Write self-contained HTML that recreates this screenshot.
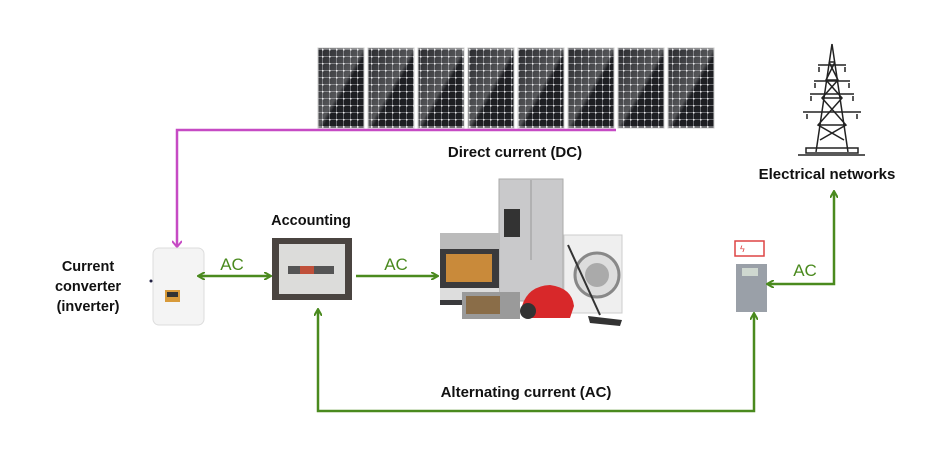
<!DOCTYPE html>
<html><head><meta charset="utf-8"><style>
html,body{margin:0;padding:0;background:#fff;}
svg{display:block;}
text{font-family:"Liberation Sans",sans-serif;}
</style></head><body>
<svg width="940" height="457" viewBox="0 0 940 457" xmlns="http://www.w3.org/2000/svg">
<defs>
<pattern id="cells" width="7" height="7" patternUnits="userSpaceOnUse">
<rect width="7" height="7" fill="#1d1e22"/>
<rect x="0" y="0" width="1" height="7" fill="#6a6b70"/>
<rect x="0" y="0" width="7" height="1" fill="#6a6b70"/>
<rect x="0" y="0" width="1.5" height="1.5" fill="#eee"/>
</pattern>
<linearGradient id="sheen" x1="0" y1="0" x2="1" y2="1">
<stop offset="0" stop-color="#fff" stop-opacity="0.05"/>
<stop offset="0.5" stop-color="#fff" stop-opacity="0.25"/>
<stop offset="0.55" stop-color="#fff" stop-opacity="0"/>
</linearGradient>
<marker id="ga" markerWidth="8" markerHeight="8" refX="6" refY="4" orient="auto-start-reverse" markerUnits="userSpaceOnUse">
<path d="M0,0 L7,4 L0,8" fill="none" stroke="#4a8a1e" stroke-width="2"/>
</marker>
<marker id="ma" markerWidth="10" markerHeight="10" refX="5" refY="9" orient="0" markerUnits="userSpaceOnUse">
<path d="M0,3 L5,9 L10,3" fill="none" stroke="#c64ac4" stroke-width="2"/>
</marker>
</defs>

<g>
<rect x="318" y="48" width="46" height="80" fill="url(#cells)" stroke="#ccc"/><rect x="318" y="48" width="46" height="80" fill="url(#sheen)"/>
<rect x="368" y="48" width="46" height="80" fill="url(#cells)" stroke="#ccc"/><rect x="368" y="48" width="46" height="80" fill="url(#sheen)"/>
<rect x="418" y="48" width="46" height="80" fill="url(#cells)" stroke="#ccc"/><rect x="418" y="48" width="46" height="80" fill="url(#sheen)"/>
<rect x="468" y="48" width="46" height="80" fill="url(#cells)" stroke="#ccc"/><rect x="468" y="48" width="46" height="80" fill="url(#sheen)"/>
<rect x="518" y="48" width="46" height="80" fill="url(#cells)" stroke="#ccc"/><rect x="518" y="48" width="46" height="80" fill="url(#sheen)"/>
<rect x="568" y="48" width="46" height="80" fill="url(#cells)" stroke="#ccc"/><rect x="568" y="48" width="46" height="80" fill="url(#sheen)"/>
<rect x="618" y="48" width="46" height="80" fill="url(#cells)" stroke="#ccc"/><rect x="618" y="48" width="46" height="80" fill="url(#sheen)"/>
<rect x="668" y="48" width="46" height="80" fill="url(#cells)" stroke="#ccc"/><rect x="668" y="48" width="46" height="80" fill="url(#sheen)"/>
</g>

<path d="M616,130 L177,130 L177,247" fill="none" stroke="#c64ac4" stroke-width="2.5" marker-end="url(#ma)"/>
<text x="515" y="157" font-size="15" font-weight="bold" text-anchor="middle" fill="#111">Direct current (DC)</text>

<g fill="none" stroke="#222" stroke-width="1.5">
<path d="M832,44 L816,152 M832,44 L848,152"/>
<path d="M829,62 L835,62 M826,80 L838,80 M822,98 L842,98 M818,125 L846,125"/>
<path d="M829,62 L838,80 L822,98 L846,125 L820,140 M835,62 L826,80 L842,98 L818,125 L844,140"/>
<path d="M818,65 L846,65 M814,81 L850,81 M810,94 L854,94 M803,112 L861,112"/>
<path d="M819,67 v5 M845,67 v5 M815,83 v5 M849,83 v5 M811,96 v5 M853,96 v5 M807,114 v5 M857,114 v5"/>
<rect x="806" y="148" width="52" height="5"/>
<path d="M798,155 L865,155"/>
</g>
<text x="827" y="179" font-size="15" font-weight="bold" text-anchor="middle" fill="#111">Electrical networks</text>

<text x="88" y="271" font-size="14.5" font-weight="bold" text-anchor="middle" fill="#111">Current</text>
<text x="88" y="291" font-size="14.5" font-weight="bold" text-anchor="middle" fill="#111">converter</text>
<text x="88" y="311" font-size="14.5" font-weight="bold" text-anchor="middle" fill="#111">(inverter)</text>
<rect x="153" y="248" width="51" height="77" rx="6" fill="#f4f4f4" stroke="#ddd"/>
<rect x="165" y="290" width="15" height="12" fill="#d89a3a"/>
<rect x="167" y="292" width="11" height="5" fill="#333"/>
<circle cx="151" cy="281" r="1.5" fill="#224"/>

<text x="311" y="225" font-size="14.5" font-weight="bold" text-anchor="middle" fill="#111">Accounting</text>
<rect x="272" y="238" width="80" height="62" fill="#4a4440"/>
<rect x="279" y="244" width="66" height="50" fill="#dcdcda"/>
<rect x="288" y="266" width="46" height="8" fill="#555"/>
<rect x="300" y="266" width="14" height="8" fill="#c0503a"/>

<path d="M199,276 L270,276" stroke="#4a8a1e" stroke-width="2.5" fill="none" marker-start="url(#ga)" marker-end="url(#ga)"/>
<text x="232" y="270" font-size="17" fill="#4a8a1e" text-anchor="middle">AC</text>
<path d="M356,276 L437,276" stroke="#4a8a1e" stroke-width="2.5" fill="none" marker-end="url(#ga)"/>
<text x="396" y="270" font-size="17" fill="#4a8a1e" text-anchor="middle">AC</text>

<rect x="499" y="179" width="64" height="122" fill="#c9c9cb" stroke="#aaa"/>
<line x1="531" y1="180" x2="531" y2="260" stroke="#999"/>
<rect x="504" y="209" width="16" height="28" fill="#333"/>
<rect x="564" y="235" width="58" height="78" fill="#efefef" stroke="#ccc"/>
<circle cx="597" cy="275" r="22" fill="#ddd" stroke="#888" stroke-width="3"/>
<circle cx="597" cy="275" r="12" fill="#aaa"/>
<rect x="440" y="233" width="59" height="72" fill="#3a3a3c"/>
<rect x="440" y="233" width="59" height="16" fill="#bbb"/>
<rect x="446" y="254" width="46" height="28" fill="#c98a3a"/>
<rect x="440" y="288" width="59" height="12" fill="#ddd"/>
<rect x="462" y="292" width="58" height="27" fill="#9a9a9a"/>
<rect x="466" y="296" width="34" height="18" fill="#8a6d48"/>
<path d="M522,306 Q528,286 550,285 Q572,288 574,306 L570,318 L526,318 Z" fill="#d8282a"/>
<circle cx="528" cy="311" r="8" fill="#333"/>
<path d="M568,245 L600,315" stroke="#333" stroke-width="2"/>
<path d="M588,316 L622,320 L620,326 L590,323 Z" fill="#333"/>

<rect x="735" y="241" width="29" height="15" fill="#fff" stroke="#d44" stroke-width="1.5"/>
<text x="740" y="252" font-size="9" fill="#d44">ϟ</text>
<rect x="736" y="264" width="31" height="48" fill="#9aa0a8"/>
<rect x="742" y="268" width="16" height="8" fill="#cfd8d0"/>

<path d="M318,310 L318,411 L754,411 L754,314" fill="none" stroke="#4a8a1e" stroke-width="2.5" marker-start="url(#ga)" marker-end="url(#ga)"/>
<text x="526" y="397" font-size="15" font-weight="bold" text-anchor="middle" fill="#111">Alternating current (AC)</text>

<path d="M768,284 L834,284 L834,192" fill="none" stroke="#4a8a1e" stroke-width="2.5" marker-start="url(#ga)" marker-end="url(#ga)"/>
<text x="805" y="276" font-size="17" fill="#4a8a1e" text-anchor="middle">AC</text>
</svg>
</body></html>
